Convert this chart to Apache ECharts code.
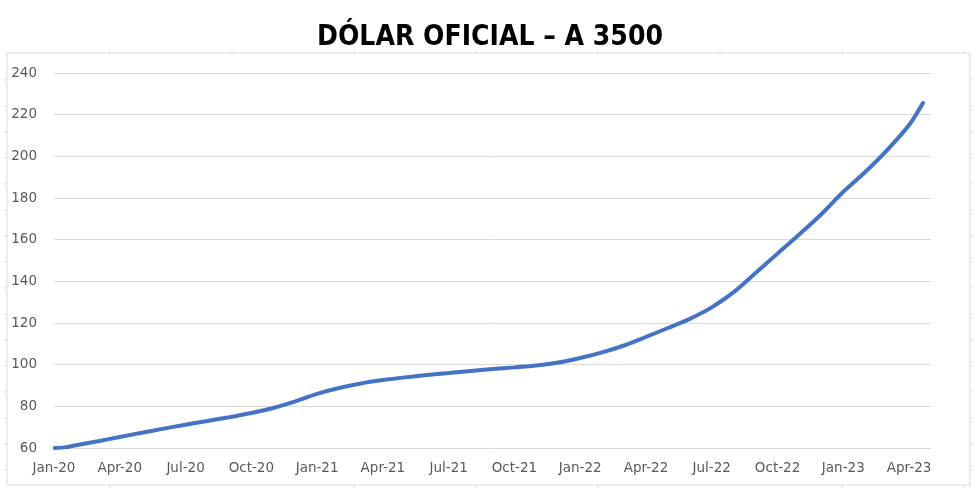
<!DOCTYPE html>
<html>
<head>
<meta charset="utf-8">
<script src="https://cdn.jsdelivr.net/npm/echarts@6/dist/echarts.min.js"></script>
<style>
html,body{margin:0;padding:0;background:#fff;}
#chart{width:980px;height:496px;}
</style>
</head>
<body>
<div id="chart"></div>
<script>
// ---- data ----
const titleText = 'DÓLAR OFICIAL – A 3500';
const dates = [
  '2020-01-02','2020-01-15','2020-02-01','2020-03-01','2020-04-01','2020-05-01','2020-06-01',
  '2020-07-01','2020-08-01','2020-09-01','2020-10-01','2020-11-01','2020-12-01',
  '2021-01-01','2021-02-01','2021-03-01','2021-04-01','2021-05-01','2021-06-01',
  '2021-07-01','2021-08-01','2021-09-01','2021-10-01','2021-11-01','2021-12-01',
  '2022-01-01','2022-02-01','2022-03-01','2022-04-01','2022-05-01','2022-06-01',
  '2022-07-01','2022-08-01','2022-09-01','2022-10-01','2022-11-01','2022-12-01',
  '2023-01-01','2023-02-01','2023-03-01','2023-04-01','2023-04-20'
];
const values = [
  60.0, 60.3, 61.3, 63.2, 65.3, 67.3, 69.3,
  71.2, 73.0, 74.8, 76.8, 79.2, 82.4,
  86.0, 88.8, 91.0, 92.6, 93.9, 95.0,
  96.0, 97.0, 97.9, 98.7, 99.6, 101.0,
  103.2, 105.9, 109.2, 113.3, 117.6, 122.0,
  127.5, 134.8, 144.0, 153.3, 162.6, 172.2,
  183.0, 192.5, 203.0, 215.0, 225.6
];
const monthNames = ['Jan','Feb','Mar','Apr','May','Jun','Jul','Aug','Sep','Oct','Nov','Dec'];
const yTicks = [60, 80, 100, 120, 140, 160, 180, 200, 220, 240];

// month index since Jan-2020 (fractional by day)
function monthIndex(d) {
  const [y, m, day] = d.split('-').map(Number);
  return (y - 2020) * 12 + (m - 1) + (day - 1) / 30;
}
const seriesData = dates.map((d, i) => [monthIndex(d), values[i]]);

// decorative outer frame with its small tick marks
const frame = { x: 7, y: 53, w: 963, h: 432 };
const deco = [{
  type: 'rect', shape: { x: frame.x, y: frame.y, width: frame.w, height: frame.h },
  style: { fill: 'none', stroke: '#d9d9d9', lineWidth: 1 }, silent: true
}];
for (let x = 110; x < frame.x + frame.w; x += 122) {
  deco.push({ type: 'line', shape: { x1: x, y1: frame.y - 3, x2: x, y2: frame.y }, style: { stroke: '#d9d9d9', lineWidth: 1 }, silent: true });
  deco.push({ type: 'line', shape: { x1: x, y1: frame.y + frame.h, x2: x, y2: frame.y + frame.h + 3 }, style: { stroke: '#d9d9d9', lineWidth: 1 }, silent: true });
}
for (let y = frame.y + 27; y < frame.y + frame.h; y += 26) {
  deco.push({ type: 'line', shape: { x1: frame.x - 3, y1: y, x2: frame.x, y2: y }, style: { stroke: '#d9d9d9', lineWidth: 1 }, silent: true });
  deco.push({ type: 'line', shape: { x1: frame.x + frame.w, y1: y, x2: frame.x + frame.w + 3, y2: y }, style: { stroke: '#d9d9d9', lineWidth: 1 }, silent: true });
}

const chart = echarts.init(document.getElementById('chart'), null, { renderer: 'canvas' });
chart.setOption({
  backgroundColor: '#ffffff',
  animation: false,
  title: {
    text: titleText,
    left: 'center',
    top: 19,
    textStyle: {
      fontFamily: "'DejaVu Sans Condensed', 'DejaVu Sans', sans-serif",
      fontWeight: 'bold',
      fontSize: 28,
      color: '#000000'
    }
  },
  graphic: deco,
  grid: { left: 54, right: 49, top: 73, bottom: 48, containLabel: false },
  xAxis: {
    type: 'value',
    min: 0,
    max: 40,
    interval: 3,
    axisLine: { show: false },
    axisTick: { show: false },
    splitLine: { show: false },
    axisLabel: {
      color: '#595959',
      fontFamily: "'DejaVu Sans', sans-serif",
      fontSize: 13.5,
      margin: 13,
      showMaxLabel: false,
      formatter: function (v) {
        if (v % 3 !== 0 || v > 39) return '';
        const y = 20 + Math.floor(v / 12);
        return monthNames[v % 12] + '-' + y;
      }
    }
  },
  yAxis: {
    type: 'value',
    min: yTicks[0],
    max: yTicks[yTicks.length - 1],
    interval: 20,
    axisLine: { show: false },
    axisTick: { show: false },
    splitLine: { lineStyle: { color: '#d9d9d9', width: 1 } },
    axisLabel: {
      color: '#595959',
      fontFamily: "'DejaVu Sans', sans-serif",
      fontSize: 13.5,
      margin: 17
    }
  },
  series: [{
    type: 'line',
    data: seriesData,
    smooth: 0.3,
    showSymbol: false,
    lineStyle: { color: '#4472C4', width: 4, cap: 'round' },
    itemStyle: { color: '#4472C4' }
  }]
});
</script>
</body>
</html>
